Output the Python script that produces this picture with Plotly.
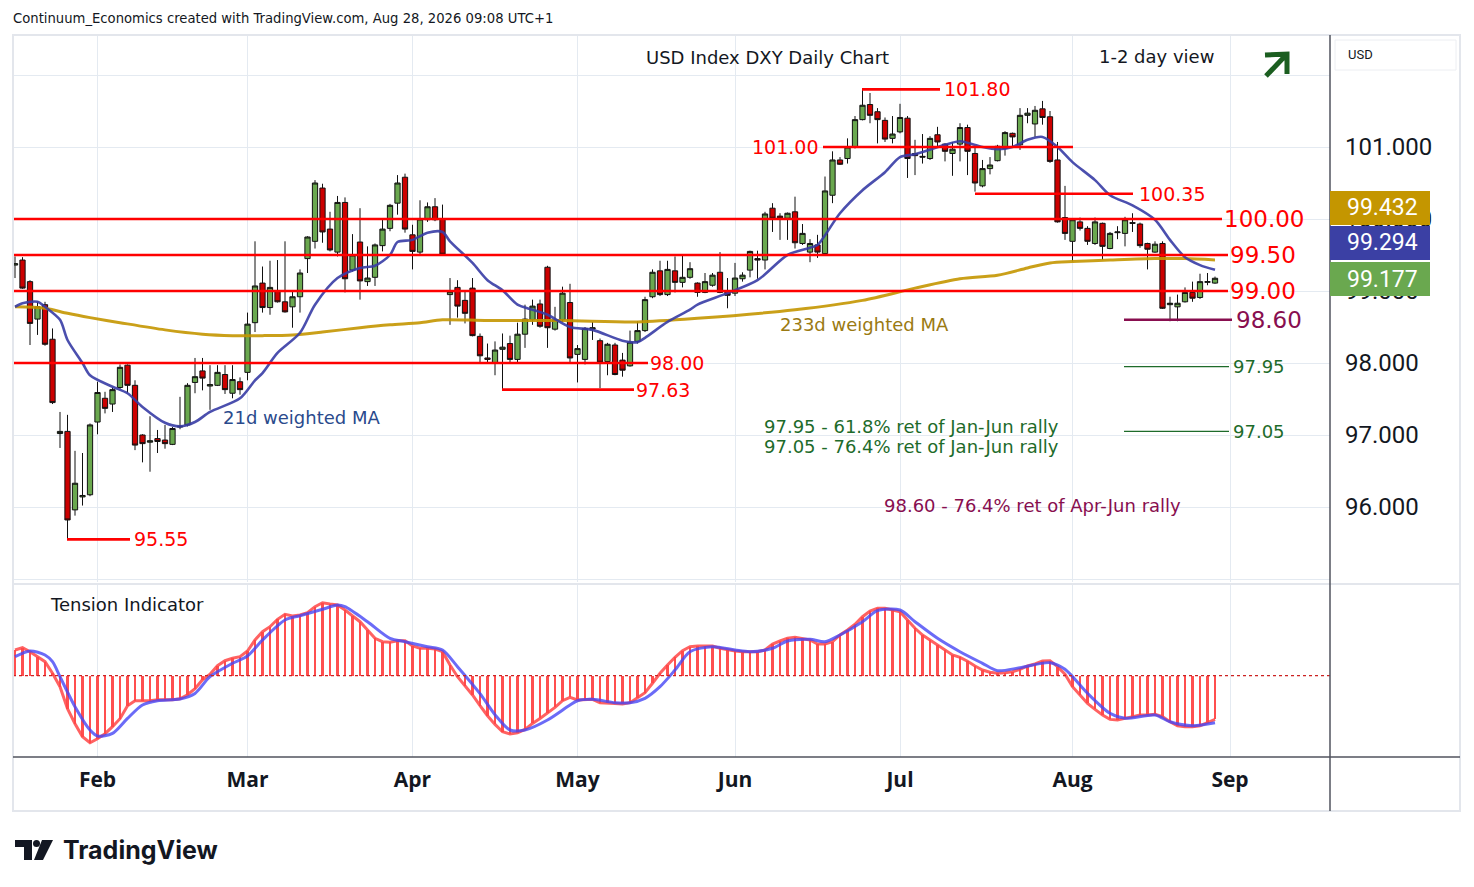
import math
import pandas as pd
import plotly.graph_objects as go

# page body has an 8px margin: figure is sized to the visible area
PAGE_W, PAGE_H = 1474, 887
OFF = 8
W, H = PAGE_W - 2 * OFF, PAGE_H - 2 * OFF

# ---------------- data ----------------
DATES = [d.strftime("%Y-%m-%d") for d in pd.bdate_range("2026-01-16", "2026-08-28")]

OPEN = [
    99.36, 99.43, 99.13, 98.61, 98.81, 98.33, 97.02, 97.05, 95.96, 96.14,
    96.17, 97.18, 97.51, 97.43, 97.66, 97.97, 97.69, 97.00, 96.90, 96.95,
    96.93, 96.87, 97.11, 97.14, 97.73, 97.89, 97.68, 97.69, 97.84, 97.58,
    97.74, 97.87, 98.56, 99.11, 98.77, 99.00, 98.85, 98.78, 98.92, 99.45,
    99.69, 100.43, 99.86, 99.54, 100.23, 99.29, 99.68, 99.13, 99.19, 99.63,
    99.87, 100.22, 100.58, 99.78, 99.54, 99.99, 100.17, 100.00, 98.95, 99.05,
    98.87, 99.04, 98.37, 98.07, 98.00, 98.19, 98.27, 98.05, 98.40, 98.60,
    98.82, 99.33, 98.47, 98.60, 98.84, 98.12, 98.05, 98.47, 98.31, 98.02,
    98.25, 98.04, 97.96, 98.30, 98.45, 98.92, 99.28, 98.95, 99.28, 99.12,
    99.19, 99.11, 98.98, 99.08, 99.26, 99.00, 98.97, 99.17, 99.29, 99.45,
    99.43, 100.15, 100.04, 100.01, 100.10, 99.66, 99.54, 99.64, 99.52, 100.33,
    100.82, 100.84, 101.00, 101.38, 101.59, 101.49, 101.37, 101.12, 101.21, 101.40,
    100.91, 100.87, 100.84, 101.17, 101.04, 100.91, 101.04, 101.27, 100.91, 100.46,
    100.70, 100.81, 100.98, 101.19, 101.03, 101.44, 101.32, 101.53, 101.42, 100.82,
    100.02, 99.69, 99.96, 99.87, 99.66, 99.94, 99.59, 99.81, 99.80, 99.95,
    99.93, 99.66, 99.54, 99.66, 98.81, 98.78, 98.85, 98.98, 98.91, 99.12,
    99.11,
]
HIGH = [
    99.48, 99.47, 99.15, 98.85, 98.85, 98.48, 97.32, 97.28, 96.78, 96.75,
    97.16, 97.74, 97.60, 97.66, 97.98, 97.98, 97.76, 97.01, 97.26, 97.07,
    97.14, 97.11, 97.53, 97.72, 98.07, 98.07, 97.97, 97.97, 97.97, 97.97,
    97.80, 98.70, 99.69, 99.34, 99.42, 99.43, 99.69, 99.00, 99.30, 99.76,
    100.54, 100.49, 100.10, 100.32, 100.30, 99.79, 100.15, 99.62, 99.66, 100.00,
    100.21, 100.61, 100.63, 99.92, 100.26, 100.23, 100.29, 100.20, 99.18, 99.15,
    99.00, 99.18, 98.41, 98.27, 98.30, 98.41, 98.38, 98.56, 98.81, 98.88,
    98.88, 99.35, 98.78, 99.06, 99.10, 98.25, 98.50, 98.57, 98.34, 98.28,
    98.28, 98.14, 98.45, 98.58, 98.92, 99.30, 99.42, 99.42, 99.48, 99.50,
    99.40, 99.12, 99.25, 99.25, 99.54, 99.18, 99.39, 99.26, 99.56, 99.56,
    100.10, 100.22, 100.08, 100.09, 100.31, 99.93, 99.72, 99.78, 100.59, 100.94,
    100.86, 101.12, 101.43, 101.80, 101.75, 101.54, 101.41, 101.43, 101.60, 101.43,
    101.10, 101.18, 101.15, 101.28, 101.05, 101.07, 101.33, 101.31, 101.00, 100.82,
    100.86, 101.03, 101.22, 101.20, 101.54, 101.54, 101.57, 101.64, 101.50, 101.07,
    100.46, 100.00, 100.02, 99.90, 100.02, 99.95, 99.82, 99.90, 100.03, 100.08,
    99.95, 99.67, 99.69, 99.69, 98.92, 98.95, 99.05, 99.13, 99.24, 99.25,
    99.20,
]
LOW = [
    99.18, 99.03, 98.25, 98.39, 98.24, 97.43, 96.82, 95.55, 95.88, 96.02,
    96.15, 97.01, 97.30, 97.32, 97.64, 97.58, 96.79, 96.62, 96.49, 96.75,
    96.81, 96.86, 97.08, 97.12, 97.58, 97.62, 97.35, 97.68, 97.57, 97.51,
    97.56, 97.76, 98.43, 98.70, 98.67, 98.84, 98.70, 98.49, 98.70, 99.25,
    99.59, 99.67, 99.55, 99.48, 98.98, 99.27, 98.88, 99.07, 99.07, 99.55,
    99.83, 100.06, 99.81, 99.30, 99.49, 99.96, 99.97, 99.50, 98.53, 98.63,
    98.55, 98.37, 97.99, 97.99, 97.83, 97.63, 98.00, 98.00, 98.21, 98.53,
    98.49, 98.21, 98.45, 98.57, 98.00, 97.73, 97.98, 98.32, 97.65, 97.83,
    97.83, 97.81, 97.95, 98.27, 98.43, 98.90, 98.93, 98.93, 98.98, 99.05,
    99.17, 98.92, 98.97, 99.06, 98.97, 98.76, 98.93, 99.13, 99.19, 99.17,
    99.30, 99.82, 99.71, 99.71, 99.59, 99.64, 99.40, 99.46, 99.51, 100.22,
    100.75, 100.77, 100.98, 101.37, 101.33, 101.05, 101.07, 101.05, 101.19, 100.57,
    100.61, 100.77, 100.82, 100.99, 100.80, 100.60, 100.80, 100.61, 100.38, 100.44,
    100.62, 100.80, 100.88, 101.00, 100.96, 101.33, 101.14, 101.31, 100.78, 99.95,
    99.71, 99.41, 99.84, 99.64, 99.64, 99.43, 99.58, 99.72, 99.62, 99.82,
    99.60, 99.30, 99.53, 98.75, 98.58, 98.58, 98.84, 98.85, 98.89, 99.08,
    99.10,
]
CLOSE = [
    99.38, 99.04, 98.55, 98.78, 98.26, 97.45, 97.05, 95.82, 96.33, 96.16,
    97.14, 97.59, 97.37, 97.63, 97.94, 97.69, 96.86, 96.88, 96.92, 96.91,
    96.88, 97.09, 97.12, 97.69, 97.81, 97.79, 97.70, 97.87, 97.63, 97.77,
    97.63, 98.54, 99.07, 98.77, 99.05, 98.85, 98.71, 98.92, 99.25, 99.75,
    100.50, 99.82, 99.57, 100.23, 99.17, 99.50, 99.14, 99.18, 99.64, 99.86,
    100.19, 100.50, 99.86, 99.55, 100.00, 100.17, 99.99, 99.51, 98.99, 98.79,
    98.69, 98.38, 98.10, 98.05, 98.18, 98.22, 98.05, 98.40, 98.61, 98.79,
    98.51, 98.49, 98.60, 98.97, 98.07, 98.20, 98.48, 98.49, 98.01, 98.26,
    97.84, 97.90, 98.29, 98.45, 98.88, 99.26, 98.95, 99.30, 99.12, 99.19,
    99.31, 98.98, 99.13, 99.22, 98.98, 98.94, 99.18, 99.22, 99.55, 99.43,
    100.07, 100.01, 100.01, 100.08, 99.67, 99.80, 99.66, 99.54, 100.39, 100.82,
    100.76, 101.00, 101.38, 101.58, 101.44, 101.38, 101.11, 101.18, 101.41, 100.84,
    100.88, 100.86, 101.12, 101.07, 100.94, 100.97, 101.27, 100.94, 100.50, 100.70,
    100.75, 101.01, 101.20, 101.14, 101.44, 101.47, 101.51, 101.41, 100.80, 99.96,
    99.80, 99.99, 99.87, 99.69, 99.96, 99.62, 99.80, 99.82, 99.99, 99.94,
    99.63, 99.58, 99.65, 98.76, 98.83, 98.83, 98.98, 98.90, 99.13, 99.13,
    99.177,
]

# 21-day weighted MA (at these bar numbers)
MA21_BAR = [0, 1, 3, 4, 6, 7, 9, 10, 13, 15, 17, 20, 22, 24, 26, 30, 32, 33, 35, 38,
            40, 43, 46, 48, 50, 51, 53, 55, 57, 58, 61, 63, 65, 67, 69, 71, 74, 77, 81, 83,
            84, 87, 90, 91, 95, 99, 103, 106, 107, 110, 113, 116, 118, 120, 124, 126, 129, 131, 133, 135,
            137, 139, 141, 144, 146, 149, 152, 154, 156, 158, 160]
MA21 = [98.78, 98.83, 98.85, 98.78, 98.60, 98.32, 98.00, 97.83, 97.67, 97.58, 97.39, 97.17, 97.12, 97.18, 97.32, 97.51, 97.76, 97.86, 98.14, 98.42,
        98.81, 99.18, 99.32, 99.35, 99.50, 99.68, 99.71, 99.81, 99.82, 99.69, 99.39, 99.15, 99.01, 98.81, 98.74, 98.67, 98.50, 98.46, 98.31, 98.29,
        98.35, 98.57, 98.74, 98.81, 98.97, 99.15, 99.50, 99.60, 99.64, 100.08, 100.40, 100.65, 100.86, 100.90, 101.03, 101.08, 101.00, 100.97, 101.00, 101.10,
        101.14, 101.00, 100.79, 100.54, 100.33, 100.19, 99.99, 99.71, 99.47, 99.36, 99.294]

# 233-day weighted MA
MA233_BAR = [0, 4, 7, 10, 14, 20, 25, 29, 33, 37, 41, 46, 50, 54, 57, 63, 73, 83, 91, 104,
             113, 120, 126, 131, 135, 138, 141, 146, 152, 156, 160]
MA233 = [98.78, 98.76, 98.69, 98.63, 98.56, 98.46, 98.40, 98.38, 98.38, 98.39, 98.43, 98.49, 98.53, 98.56, 98.60, 98.59, 98.59, 98.57, 98.62, 98.74,
         98.87, 99.04, 99.17, 99.22, 99.32, 99.39, 99.41, 99.43, 99.45, 99.45, 99.432]

# Tension indicator (arbitrary units) for every bar
TENSION = [
    25.7, 28, 24, 19, 14, 2.4, -11, -33, -48, -61,
    -67, -63, -58, -51, -43, -30, -25, -25, -25, -24,
    -24, -24, -23, -19, -13, -4, 1.4, 10, 15, 17.4,
    19, 24.7, 35.7, 44, 49, 56.4, 61.4, 59.7, 60.7, 63,
    69, 73, 71.7, 70.7, 65.7, 59.7, 54, 45.7, 37.4, 34,
    33.4, 35, 35, 29.7, 27.4, 27.4, 26.7, 24, 10.7, -1,
    -10.3, -19.3, -30, -40, -48.7, -56, -58.3, -57, -53.7, -47.7,
    -42.7, -37, -31.7, -25, -21.7, -24.3, -24.3, -23.6, -27, -27.7,
    -27.7, -28.3, -27, -22, -17, -7.6, 2.4, 10.7, 18.4, 25,
    29, 29.7, 29.7, 29.7, 27.4, 25.7, 24.7, 24, 24, 24,
    25.7, 31.7, 34.7, 37.4, 38.4, 37.4, 35.7, 31.7, 31.7, 34,
    40.7, 45.7, 51.4, 59, 64.7, 67.4, 67.4, 65.7, 64, 55.7,
    47.4, 40.7, 35.7, 30.7, 25.7, 20.7, 18.4, 14.5, 9.7, 5.7,
    3.4, 2.4, 3, 4, 6.4, 9.7, 11.7, 14.7, 15, 9,
    1.4, -11, -19.3, -27.7, -33.7, -39.3, -43.7, -44.3, -42.7, -41,
    -39.3, -39.3, -38.6, -41, -46, -50, -51, -51, -50, -47,
    -43.7,
]
# Tension signal line
SIGNAL_BAR = [0, 2, 4, 5, 6, 8, 10, 11, 13, 15, 17, 19, 22, 24, 26, 29, 31, 33, 36, 38,
              41, 43, 44, 47, 50, 52, 55, 57, 59, 62, 64, 66, 68, 71, 74, 75, 77, 80, 82, 84,
              86, 88, 90, 93, 96, 98, 101, 103, 106, 108, 110, 113, 115, 118, 120, 123, 126, 129, 131, 134,
              138, 140, 143, 146, 148, 152, 154, 157, 160]
SIGNAL = [19, 24.7, 20.7, 14, -1, -31, -54.3, -60.3, -57.7, -42.7, -29.3, -25, -23.3, -17.7, -1, 12.4, 19.7, 35.7, 55.7, 60,
          66.4, 70.7, 69, 54, 37.4, 34, 29, 25.7, 9, -18, -39, -54.3, -54.3, -44.3, -29.3, -25, -23.6, -27, -27, -22.6,
          -11, 5.7, 24, 29, 25.7, 24, 27.4, 34.7, 36.4, 34, 40.7, 54, 65, 65.7, 54, 37.4, 24, 12.4, 5, 8,
          13, 6.4, -17.6, -37.6, -42.6, -39.3, -46, -50, -47]

MONTH_TICKS = ["2026-02-02", "2026-03-02", "2026-04-01", "2026-05-01",
               "2026-06-01", "2026-07-01", "2026-08-03", "2026-09-01"]
MONTH_LABELS = ["Feb", "Mar", "Apr", "May", "Jun", "Jul", "Aug", "Sep"]
PRICE_TICKS = [95, 96, 97, 98, 99, 100, 101, 102]
PRICE_TICK_TEXT = ["", "96.000", "97.000", "98.000", "99.000", "100.000", "101.000", ""]

RED_LEVELS = [101.80, 101.00, 100.35, 100.00, 99.50, 99.00, 98.00, 97.63, 95.55]
RETRACE_LEVELS = [97.95, 97.05]
APR_JUN_LEVEL = 98.60
NOTES = ["97.95 - 61.8% ret of Jan-Jun rally",
         "97.05 - 76.4% ret of Jan-Jun rally",
         "98.60 - 76.4% ret of Apr-Jun rally"]

# ---------------- helpers (layout only) ----------------
CAL = pd.bdate_range("2026-01-16", periods=230)


def bar_x(i):
    k = math.floor(i)
    f = i - k
    base = CAL[0] + pd.Timedelta(days=k) if k < 0 else CAL[k]
    return (base + pd.Timedelta(days=f)).strftime("%Y-%m-%d %H:%M:%S")


def px_bar(px):
    return (px - 15.0) / 7.5


def PX(x):
    return (x - OFF) / W


def PY(y):
    return 1 - (y - OFF) / H


X_LEFT, X_RIGHT = px_bar(13), px_bar(1330)
FONT = "DejaVu Sans"
AXF = "Roboto"

fig = go.Figure()

fig.add_trace(go.Candlestick(
    x=DATES, open=OPEN, high=HIGH, low=LOW, close=CLOSE,
    increasing=dict(fillcolor="#6aa84f", line=dict(color="#111111", width=1)),
    decreasing=dict(fillcolor="#cc0000", line=dict(color="#111111", width=1)),
    whiskerwidth=0, hoverinfo="skip", showlegend=False, xaxis="x", yaxis="y"))

fig.add_trace(go.Scatter(
    x=[DATES[i] for i in MA233_BAR], y=MA233, mode="lines",
    line=dict(color="rgba(196,150,0,0.9)", width=3, shape="spline", smoothing=0.8),
    hoverinfo="skip", showlegend=False, xaxis="x", yaxis="y"))
fig.add_trace(go.Scatter(
    x=[DATES[i] for i in MA21_BAR], y=MA21, mode="lines",
    line=dict(color="rgba(55,60,165,0.9)", width=2.6, shape="spline", smoothing=0.8),
    hoverinfo="skip", showlegend=False, xaxis="x", yaxis="y"))

# lower pane
fig.add_trace(go.Bar(
    x=DATES, y=TENSION, width=86400000 * 0.28,
    marker=dict(color="rgba(255,60,60,0.9)", line=dict(width=0)),
    hoverinfo="skip", showlegend=False, xaxis="x2", yaxis="y2"))
fig.add_trace(go.Scatter(
    x=DATES, y=TENSION, mode="lines",
    line=dict(color="rgba(255,70,70,0.85)", width=3),
    hoverinfo="skip", showlegend=False, xaxis="x2", yaxis="y2"))
fig.add_trace(go.Scatter(
    x=[DATES[i] for i in SIGNAL_BAR], y=SIGNAL, mode="lines",
    line=dict(color="rgba(70,70,245,0.8)", width=3, shape="spline", smoothing=0.8),
    hoverinfo="skip", showlegend=False, xaxis="x2", yaxis="y2"))

shapes = []
annotations = []


def seg(level, x0px, x1px, color, width):
    shapes.append(dict(type="line", xref="x", yref="y",
                       x0=bar_x(px_bar(x0px)), x1=bar_x(px_bar(x1px)),
                       y0=level, y1=level, layer="above",
                       line=dict(color=color, width=width)))


def lab(text, xpx, level, color, size, anchor="left"):
    annotations.append(dict(text=text, xref="x", yref="y", x=bar_x(px_bar(xpx)), y=level,
                            xanchor=anchor, yanchor="middle", showarrow=False,
                            font=dict(family=FONT, size=size, color=color)))


RED = "#ff0000"
red_layout = [(862, 940, 942, "left", 19), (823, 1073, 820, "right", 19),
              (975, 1133, 1137, "left", 19), (13, 1222, 1222, "left", 23),
              (13, 1228, 1228, "left", 23), (13, 1228, 1228, "left", 23),
              (13, 648, 648, "left", 19), (502, 634, 634, "left", 19),
              (67, 130, 132, "left", 19)]
for lvl, (a, b, lx, anc, fs) in zip(RED_LEVELS, red_layout):
    seg(lvl, a, b, RED, 2.6)
    lab(f"{lvl:.2f}", lx, lvl, RED, fs, anc)

PURPLE = "#880e4f"
seg(APR_JUN_LEVEL, 1124, 1232, PURPLE, 2.6)
lab(f"{APR_JUN_LEVEL:.2f}", 1234, APR_JUN_LEVEL, PURPLE, 23)

DKGREEN = "#1e6b2a"
for lvl in RETRACE_LEVELS:
    seg(lvl, 1124, 1229, DKGREEN, 1.2)
    lab(f"{lvl:.2f}", 1231, lvl, DKGREEN, 18)

# zero line of tension pane
shapes.append(dict(type="line", xref="paper", yref="y2", x0=PX(13), x1=PX(1330), y0=0, y1=0,
                   line=dict(color="#cc2222", width=1.2, dash="dot"), layer="above"))

# frame / separators
shapes += [
    dict(type="rect", xref="paper", yref="paper", x0=PX(13), x1=PX(1460), y0=PY(811), y1=PY(35),
         line=dict(color="#e3e6ec", width=2), layer="above"),
    dict(type="line", xref="paper", yref="paper", x0=PX(13), x1=PX(1460), y0=PY(584), y1=PY(584),
         line=dict(color="#e3e6ec", width=2), layer="above"),
    dict(type="line", xref="paper", yref="paper", x0=PX(13), x1=PX(1460), y0=PY(757), y1=PY(757),
         line=dict(color="#50535e", width=1.5), layer="above"),
    dict(type="line", xref="paper", yref="paper", x0=PX(1330), x1=PX(1330), y0=PY(811), y1=PY(35),
         line=dict(color="#50535e", width=1.5), layer="above"),
    dict(type="rect", xref="paper", yref="paper", x0=PX(1335), x1=PX(1456), y0=PY(70), y1=PY(40),
         fillcolor="#ffffff", line=dict(color="#eceef2", width=1), layer="above"),
]

# last value boxes
boxes = [(MA233[-1], "#c49600", 191, 225), (MA21[-1], "#3b40a4", 226, 260),
         (CLOSE[-1], "#6aa84f", 262, 296)]
for val, col, y0, y1 in boxes:
    shapes.append(dict(type="rect", xref="paper", yref="paper", x0=PX(1330), x1=PX(1430),
                       y0=PY(y1), y1=PY(y0), fillcolor=col, line=dict(width=0), layer="above"))
    annotations.append(dict(text=f"{val:.3f}", xref="paper", yref="paper", x=PX(1382),
                            y=PY((y0 + y1) / 2), xanchor="center", yanchor="middle",
                            showarrow=False, font=dict(family=AXF, size=23, color="#ffffff")))

# green arrow (1-2 day view: up)
shapes.append(dict(type="path", xref="paper", yref="paper",
                   path=f"M {PX(1266)},{PY(76)} L {PX(1287)},{PY(54)} "
                        f"M {PX(1265)},{PY(55)} L {PX(1287)},{PY(54)} L {PX(1287)},{PY(74)}",
                   line=dict(color="#1b5e20", width=5), layer="above"))

# TradingView logo
shapes += [
    dict(type="rect", xref="paper", yref="paper", x0=PX(15), x1=PX(32), y0=PY(847), y1=PY(840),
         fillcolor="#131722", line=dict(width=0)),
    dict(type="rect", xref="paper", yref="paper", x0=PX(24), x1=PX(32), y0=PY(860), y1=PY(840),
         fillcolor="#131722", line=dict(width=0)),
    dict(type="circle", xref="paper", yref="paper", x0=PX(33), x1=PX(40), y0=PY(847), y1=PY(840),
         fillcolor="#131722", line=dict(width=0)),
    dict(type="path", xref="paper", yref="paper",
         path=f"M {PX(42)},{PY(840)} L {PX(53)},{PY(840)} L {PX(43)},{PY(860)} L {PX(34)},{PY(860)} Z",
         fillcolor="#131722", line=dict(width=0)),
]


def ptxt(text, x, y, size, color="#131722", anchor="left", family=FONT, weight=None):
    f = dict(family=family, size=size, color=color)
    if weight:
        f["weight"] = weight
    annotations.append(dict(text=text, xref="paper", yref="paper", x=PX(x), y=PY(y),
                            xanchor=anchor, yanchor="middle", showarrow=False, font=f))


ptxt("Continuum_Economics created with TradingView.com, Aug 28, 2026 09:08 UTC+1", 11, 19, 13.2)
ptxt("USD Index DXY Daily Chart", 767, 58, 18, anchor="center")
ptxt("1-2 day view", 1156, 56, 18, anchor="center")
ptxt("USD", 1346, 55, 13, family=AXF)
ptxt("21d weighted MA", 221, 417, 18, color="#2a4a8c")
ptxt("233d weighted MA", 778, 325, 18, color="#9a7a12")
ptxt(NOTES[0], 762, 426, 18, color=DKGREEN)
ptxt(NOTES[1], 762, 446, 18, color=DKGREEN)
ptxt(NOTES[2], 882, 505, 18, color=PURPLE)
ptxt("Tension Indicator", 48, 604, 18)
ptxt("TradingView", 61, 850, 25, family="Inter", weight="bold")

xcommon = dict(type="date", rangebreaks=[dict(bounds=["sat", "mon"])],
               range=[bar_x(X_LEFT), bar_x(X_RIGHT)], domain=[PX(13), PX(1330)],
               tickvals=MONTH_TICKS, ticktext=MONTH_LABELS, showgrid=True,
               gridcolor="#e4eaf1", gridwidth=1, zeroline=False, showline=False,
               ticks="", fixedrange=True)

fig.update_layout(
    width=W, height=H, margin=dict(l=0, r=0, t=0, b=0),
    paper_bgcolor="#ffffff", plot_bgcolor="#ffffff",
    showlegend=False, boxgap=0.3, boxgroupgap=0, bargap=0,
    xaxis=dict(**xcommon, anchor="y", showticklabels=False, rangeslider=dict(visible=False)),
    xaxis2=dict(**xcommon, anchor="y2", matches="x", showticklabels=True,
                tickfont=dict(family="Open Sans", size=21, color="#131722", weight="bold"),
                ticklabelstandoff=8),
    yaxis=dict(domain=[PY(582), PY(35)], range=[101 - (582 - 147) / 72, 101 + (147 - 35) / 72],
               side="right", anchor="x", tickvals=PRICE_TICKS, ticktext=PRICE_TICK_TEXT,
               showgrid=True, gridcolor="#e4eaf1", zeroline=False, ticks="",
               tickfont=dict(family=AXF, size=24, color="#131722"), ticklabelstandoff=14,
               fixedrange=True),
    yaxis2=dict(domain=[PY(757), PY(585)], range=[-81.3, 90.7], anchor="x2",
                showticklabels=False, showgrid=False, zeroline=False, fixedrange=True),
    shapes=shapes, annotations=annotations,
)

fig.write_html("out.html")
